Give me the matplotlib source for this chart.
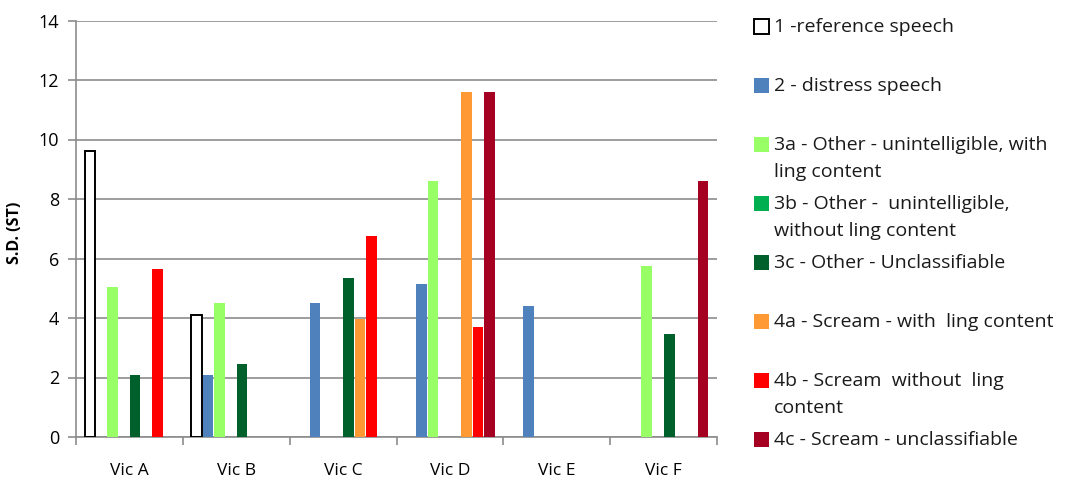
import numpy as np
import matplotlib

matplotlib.use("Agg")
import matplotlib.pyplot as plt
from matplotlib.patches import Rectangle

nan = np.nan

victims = ["Vic A", "Vic B", "Vic C", "Vic D", "Vic E", "Vic F"]

series_names = [
    "1 -reference speech",
    "2 - distress speech",
    "3a - Other - unintelligible, with\nling content",
    "3b - Other -  unintelligible,\nwithout ling content",
    "3c - Other - Unclassifiable",
    "4a - Scream - with  ling content",
    "4b - Scream  without  ling\ncontent",
    "4c - Scream - unclassifiable",
]

ref_speech = [9.6, 4.1, nan, nan, nan, nan]
distress_speech = [nan, 2.1, 4.5, 5.15, 4.4, nan]
other_with_ling = [5.05, 4.5, nan, 8.6, nan, 5.75]
other_without_ling = [nan, nan, nan, nan, nan, nan]
other_unclass = [2.1, 2.45, 5.35, nan, nan, 3.45]
scream_with_ling = [nan, nan, 3.95, 11.6, nan, nan]
scream_without_ling = [5.65, nan, 6.75, 3.7, nan, nan]
scream_unclass = [nan, nan, nan, 11.6, nan, 8.6]

series = [ref_speech, distress_speech, other_with_ling, other_without_ling,
          other_unclass, scream_with_ling, scream_without_ling, scream_unclass]

colors = ["white", "#4F81BD", "#99FF66", "#00B050", "#00602B",
          "#FF9933", "#FF0000", "#A50021"]

GRID = "#8C8C8C"
FONT = "Open Sans"

fig = plt.figure(figsize=(10.69, 4.79), dpi=100)
ax = fig.add_axes([76 / 1069, 42 / 479, 641 / 1069, 416.5 / 479])

x = np.arange(len(victims))
w = 0.1056
for i, (vals, col) in enumerate(zip(series, colors)):
    off = (i - 3.5) * w
    if i == 0:
        ax.bar(x + off, vals, w * 0.95, color="white", edgecolor="black",
               linewidth=1.4, zorder=3)
    else:
        ax.bar(x + off, vals, w * 0.95, color=col, linewidth=0, zorder=3)

ax.set_xlim(-0.5, len(victims) - 0.5)
ax.set_ylim(0, 14)
ax.set_yticks(np.arange(0, 15, 2))
ax.yaxis.grid(True, color=GRID, linewidth=1.2, zorder=0)
ax.set_axisbelow(True)

ax.set_xticks(x)
ax.set_xticklabels(victims, fontsize=12.5, family=FONT)
ax.set_xticks(np.arange(-0.5, len(victims)), minor=True)
ax.tick_params(axis="x", which="major", length=0, pad=19)
ax.tick_params(axis="x", which="minor", length=6, width=1.2, color=GRID,
               direction="out")
ax.tick_params(axis="y", length=6, width=1.2, color=GRID, labelsize=13,
               pad=6)
for lab in ax.get_yticklabels():
    lab.set_family(FONT)

for s in ("top", "right"):
    ax.spines[s].set_visible(False)
for s in ("left", "bottom"):
    ax.spines[s].set_color(GRID)
    ax.spines[s].set_linewidth(1.2)

ax.set_ylabel("S.D. (ST)", fontsize=11.5, fontweight="bold", family=FONT)
ax.yaxis.set_label_coords(-0.082, 0.49)

# legend drawn entry by entry in figure pixels
W, H = 1069, 479
for i, (name, col) in enumerate(zip(series_names, colors)):
    top = 13 + 59 * i
    fig.patches.append(Rectangle((754 / W, 1 - (top + 21) / H), 15 / W, 15 / H,
                                 transform=fig.transFigure,
                                 facecolor=col,
                                 edgecolor="black" if i == 0 else col,
                                 linewidth=1.4 if i == 0 else 0))
    fig.text(774 / W, 1 - (top + 5) / H, name, ha="left", va="top",
             fontsize=14, family=FONT, linespacing=1.65, color="#1a1a1a")

fig.savefig("out.png", dpi=100, facecolor="white")
